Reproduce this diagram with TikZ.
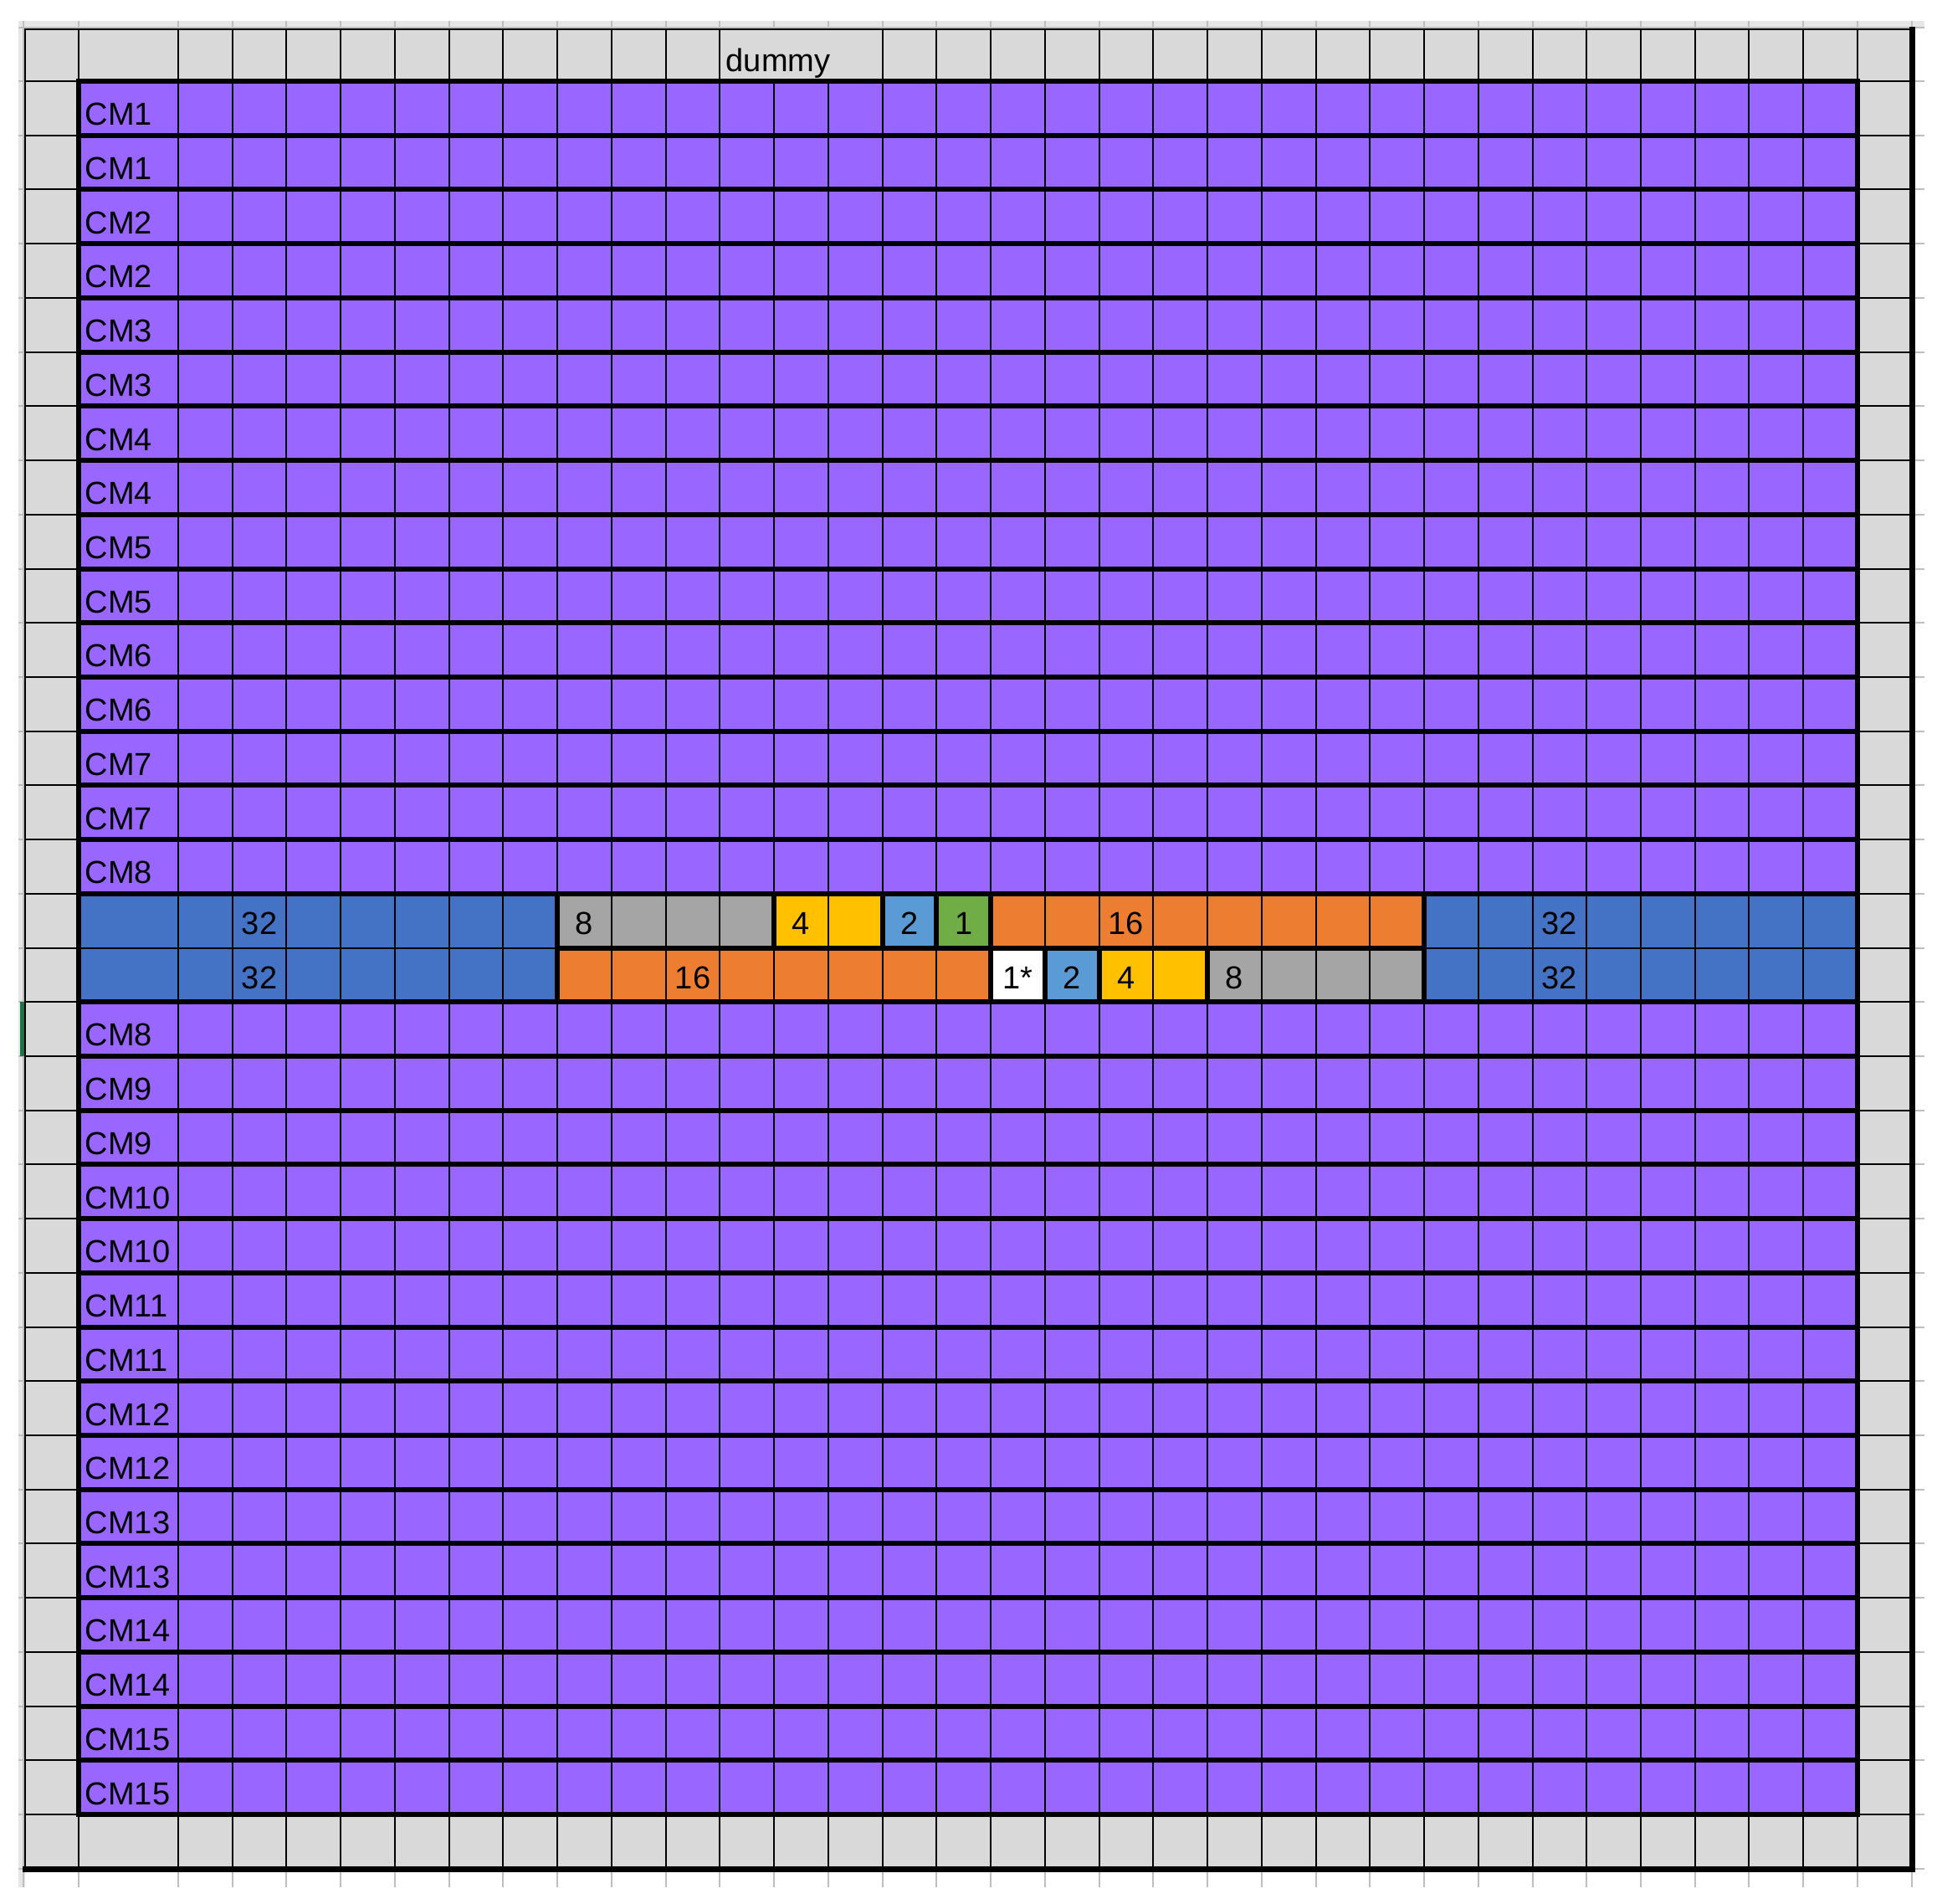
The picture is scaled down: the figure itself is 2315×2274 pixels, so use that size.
\documentclass[tikz,border=0pt]{standalone}
\usepackage{fontspec}
\setmainfont{Liberation Sans}
\definecolor{cmpurple}{HTML}{9966FF}
\definecolor{blk32}{HTML}{4472C4}
\definecolor{blk16}{HTML}{ED7D31}
\definecolor{blk8}{HTML}{A5A5A5}
\definecolor{blk4}{HTML}{FFC000}
\definecolor{blk2}{HTML}{5B9BD5}
\definecolor{blk1}{HTML}{70AD47}
\definecolor{bordergray}{HTML}{D9D9D9}
\definecolor{stripgray}{HTML}{E6E6E6}
\definecolor{tickgray}{HTML}{BEBEBE}
\definecolor{selgreen}{HTML}{217346}
\begin{document}
\begin{tikzpicture}[x=0.25pt,y=-0.25pt,
  declare function={cx(\k)=213+\k*64.74; ry(\r)=97+\r*64.72;},
  thinl/.style={line width=0.5pt,black},
  thickl/.style={line width=1.5pt,black,line cap=rect},
  tickl/.style={line width=0.5pt,tickgray},
  lbl/.style={anchor=base west,inner sep=0pt,font=\fontsize{9.5}{11}\selectfont},
  num/.style={anchor=base,inner sep=0pt,font=\fontsize{9.5}{11}\selectfont}]
\useasboundingbox (0,0) rectangle (2315,2274);
% spreadsheet surroundings
\fill[stripgray] (22,25) rectangle (2300,33);
\fill[stripgray] (22,25) rectangle (30,2255);
\draw[tickl] (22,33) -- (2300,33);
\draw[tickl] (28,25) -- (28,2255);
\foreach \k in {0,...,31}{
  \draw[tickl] ({cx(\k)},25) -- ({cx(\k)},33);
  \draw[tickl] ({cx(\k)},2237) -- ({cx(\k)},2255);
}
\foreach \xx in {94,2285}{
  \draw[tickl] (\xx,25) -- (\xx,33);
  \draw[tickl] (\xx,2237) -- (\xx,2255);
}
\foreach \r in {0,...,32}{
  \draw[tickl] (22,{ry(\r)}) -- (30,{ry(\r)});
  \draw[tickl] (2288,{ry(\r)}) -- (2300,{ry(\r)});
}
\draw[tickl] (22,2233) -- (30,2233);
\draw[tickl] (2288,2233) -- (2300,2233);
% gray frame area
\fill[bordergray] (30,35) rectangle (2285,2233);
% thin lines of gray area
\foreach \xx in {94,213}{\draw[thinl] (\xx,35) -- (\xx,97); \draw[thinl] (\xx,2168) -- (\xx,2233);}
\foreach \k in {1,...,10,13,14,...,31}{\draw[thinl] ({cx(\k)},35) -- ({cx(\k)},97);}
\foreach \k in {1,...,31}{\draw[thinl] ({cx(\k)},2168) -- ({cx(\k)},2233);}
\foreach \r in {0,...,32}{
  \draw[thinl] (30,{ry(\r)}) -- (94,{ry(\r)});
  \draw[thinl] ({cx(31)},{ry(\r)}) -- (2285,{ry(\r)});
}
% purple rows
\fill[cmpurple] (94,{ry(0)}) rectangle ({cx(31)},{ry(15)});
\fill[cmpurple] (94,{ry(17)}) rectangle ({cx(31)},{ry(32)});
% middle blocks
\fill[blk32] (94,{ry(15)}) rectangle ({cx(7)},{ry(17)});
\fill[blk32] ({cx(23)},{ry(15)}) rectangle ({cx(31)},{ry(17)});
\fill[blk8] ({cx(7)},{ry(15)}) rectangle ({cx(11)},{ry(16)});
\fill[blk4] ({cx(11)},{ry(15)}) rectangle ({cx(13)},{ry(16)});
\fill[blk2] ({cx(13)},{ry(15)}) rectangle ({cx(14)},{ry(16)});
\fill[blk1] ({cx(14)},{ry(15)}) rectangle ({cx(15)},{ry(16)});
\fill[blk16] ({cx(15)},{ry(15)}) rectangle ({cx(23)},{ry(16)});
\fill[blk16] ({cx(7)},{ry(16)}) rectangle ({cx(15)},{ry(17)});
\fill[white] ({cx(15)},{ry(16)}) rectangle ({cx(16)},{ry(17)});
\fill[blk2] ({cx(16)},{ry(16)}) rectangle ({cx(17)},{ry(17)});
\fill[blk4] ({cx(17)},{ry(16)}) rectangle ({cx(19)},{ry(17)});
\fill[blk8] ({cx(19)},{ry(16)}) rectangle ({cx(23)},{ry(17)});
% thin grid inside
\foreach \k in {0,...,30}{\draw[thinl] ({cx(\k)},{ry(0)}) -- ({cx(\k)},{ry(32)});}
\draw[thinl] (94,{ry(16)}) -- ({cx(31)},{ry(16)});
% thick row borders
\foreach \r in {0,...,15,17,18,...,32}{\draw[thickl] (94,{ry(\r)}) -- ({cx(31)},{ry(\r)});}
\draw[thickl] (94,{ry(0)}) -- (94,{ry(32)});
\draw[thickl] ({cx(31)},{ry(0)}) -- ({cx(31)},{ry(32)});
% thick group borders in the middle
\foreach \a/\b/\r in {7/11/15,11/13/15,13/14/15,14/15/15,15/23/15,7/15/16,15/16/16,16/17/16,17/19/16,19/23/16}{
  \draw[thickl] ({cx(\a)},{ry(\r)}) rectangle ({cx(\b)},{ry(\r)+64.72});
}
\draw[thickl] (94,{ry(15)}) rectangle ({cx(7)},{ry(17)});
\draw[thickl] ({cx(23)},{ry(15)}) rectangle ({cx(31)},{ry(17)});
% outer frame
\draw[line width=0.6pt,line cap=rect] (30,2233) -- (30,35) -- (2285,35);
\draw[line width=1.75pt,line cap=rect] (2285,35) -- (2285,2233) -- (30,2233);
% selection marker
\draw[line width=1.1pt,selgreen] (26.5,{ry(17)}) -- (26.5,{ry(18)});
% texts
\node[lbl] (dummy) at (867,85) {dummy};
\foreach \r/\t in {1/CM1,2/CM1,3/CM2,4/CM2,5/CM3,6/CM3,7/CM4,8/CM4,9/CM5,10/CM5,11/CM6,12/CM6,13/CM7,14/CM7,15/CM8,
  18/CM8,19/CM9,20/CM9,21/CM10,22/CM10,23/CM11,24/CM11,25/CM12,26/CM12,27/CM13,28/CM13,29/CM14,30/CM14,31/CM15,32/CM15}{
  \node[lbl] (lab\r) at (101,{ry(\r)-12}) {\t};
}
\foreach \k/\r/\t/\n in {2/16/32/a1,8/16/8/a2,12/16/4/a3,14/16/2/a4,15/16/1/a5,18/16/16/a6,26/16/32/a7,
  2/17/32/b1,10/17/16/b2,16/17/1*/b3,17/17/2/b4,18/17/4/b5,20/17/8/b6,26/17/32/b7}{
  \node[num] (\n) at ({cx(\k)-32.37},{ry(\r)-16}) {\t};
}
\end{tikzpicture}
\end{document}
